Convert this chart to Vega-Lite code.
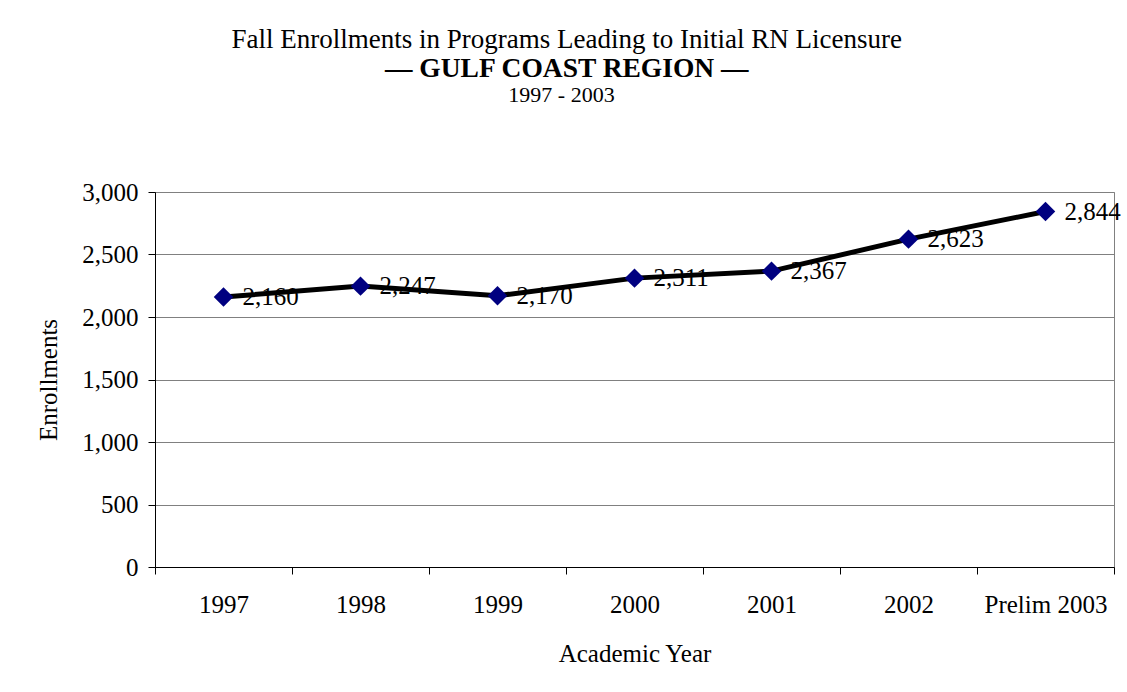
{
  "$schema": "https://vega.github.io/schema/vega-lite/v6.json",
  "background": "white",
  "padding": {"left": 36, "top": 26, "right": 0, "bottom": 0},
  "title": {
    "text": "Fall Enrollments in Programs Leading to Initial RN Licensure",
    "subtitle": "— GULF COAST REGION —",
    "font": "Liberation Serif",
    "fontSize": 27,
    "fontWeight": "normal",
    "color": "black",
    "subtitleFont": "Liberation Serif",
    "subtitleFontSize": 27.5,
    "subtitleFontWeight": "bold",
    "subtitleColor": "black",
    "subtitlePadding": 1,
    "anchor": "middle",
    "offset": 0,
    "dx": -12
  },
  "vconcat": [
    {
      "width": 959,
      "height": 375,
      "title": {
        "text": "1997 - 2003",
        "font": "Liberation Serif",
        "fontSize": 22,
        "fontWeight": "normal",
        "color": "black",
        "anchor": "middle",
        "offset": 73,
        "dx": -73
      },
      "data": {
        "values": [
          {"year": "1997", "value": 2160},
          {"year": "1998", "value": 2247},
          {"year": "1999", "value": 2170},
          {"year": "2000", "value": 2311},
          {"year": "2001", "value": 2367},
          {"year": "2002", "value": 2623},
          {"year": "Prelim 2003", "value": 2844}
        ]
      },
      "encoding": {
        "x": {
          "field": "year",
          "type": "nominal",
          "sort": null,
          "scale": {"type": "band", "paddingInner": 0, "paddingOuter": 0},
          "axis": {
            "title": "Academic Year",
            "labelAngle": 0,
            "tickBand": "extent",
            "grid": false,
            "tickSize": 7,
            "labelPadding": 18,
            "titlePadding": 24,
            "domainColor": "black",
            "tickColor": "black"
          }
        },
        "y": {
          "field": "value",
          "type": "quantitative",
          "scale": {"domain": [0, 3000], "nice": false},
          "axis": {
            "title": "Enrollments",
            "values": [0, 500, 1000, 1500, 2000, 2500, 3000],
            "format": ",d",
            "tickSize": 7,
            "labelPadding": 10,
            "titlePadding": 20,
            "grid": true,
            "gridColor": "#808080",
            "domainColor": "black",
            "tickColor": "black"
          }
        }
      },
      "layer": [
        {"mark": {"type": "line", "color": "black", "strokeWidth": 5}},
        {"mark": {"type": "point", "shape": "diamond", "filled": true, "color": "#000080", "size": 380, "opacity": 1}},
        {
          "mark": {"type": "text", "align": "left", "baseline": "middle", "dx": 19, "fontSize": 25, "font": "Liberation Serif", "color": "black"},
          "encoding": {"text": {"field": "value", "type": "quantitative", "format": ","}}
        }
      ]
    }
  ],
  "config": {
    "font": "Liberation Serif",
    "view": {"stroke": "#808080", "strokeWidth": 1},
    "axis": {
      "labelFont": "Liberation Serif",
      "titleFont": "Liberation Serif",
      "labelFontSize": 25,
      "titleFontSize": 25,
      "titleFontWeight": "normal",
      "labelColor": "black",
      "titleColor": "black",
      "domainWidth": 1
    }
  }
}
